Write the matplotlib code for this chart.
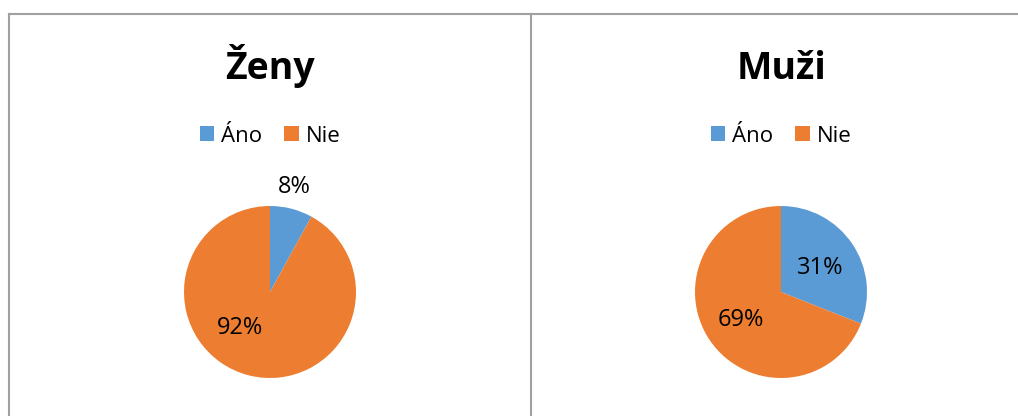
import matplotlib
matplotlib.use('Agg')
import matplotlib.pyplot as plt
from matplotlib.lines import Line2D

plt.rcParams['font.family'] = ['Open Sans', 'DejaVu Sans']

# data
categories = ["Áno", "Nie"]
titles = ["Ženy", "Muži"]
zeny = [8, 92]
muzi = [31, 69]
colors = ["#5B9BD5", "#ED7D31"]

W, H = 1018, 416
fig = plt.figure(figsize=(W / 100, H / 100), dpi=100)


def fx(px):
    return px / W


def fy(py):
    return 1 - py / H


# panel borders (cropped chart frames)
border = "#A0A0A0"
top = 13.5
fig.add_artist(Line2D([fx(9), fx(W)], [fy(top), fy(top)], color=border, lw=1.5, transform=fig.transFigure))
fig.add_artist(Line2D([fx(9), fx(9)], [fy(top), 0], color=border, lw=1.5, transform=fig.transFigure))
fig.add_artist(Line2D([fx(531), fx(531)], [fy(top), 0], color=border, lw=1.5, transform=fig.transFigure))


def draw_pie(values, title, cx, cy, r, label_pos):
    ax = fig.add_axes([fx(cx - r), fy(cy + r), r * 2 / W, r * 2 / H])
    wedges, texts, autotexts = ax.pie(
        values, colors=colors, startangle=90, counterclock=False,
        autopct="%1.0f%%", pctdistance=0.57, radius=1,
        wedgeprops=dict(linewidth=0),
        textprops=dict(fontsize=17, color="black"))
    for t, pos in zip(autotexts, label_pos):
        if pos is not None:
            t.set_position(pos)
    ax.set_xlim(-1, 1)
    ax.set_ylim(-1, 1)
    ax.set_aspect("equal")
    ax.axis("off")

    fig.text(fx(cx), fy(79), title, ha="center", va="baseline",
             fontsize=27, fontweight="bold")
    fig.legend(wedges, categories, loc="center", ncol=2,
               bbox_to_anchor=(fx(cx), fy(136)), frameon=False,
               fontsize=16, handlelength=0.65, handleheight=0.65,
               handletextpad=0.3, columnspacing=1.0)


draw_pie(zeny, titles[0], 270, 292, 86, [(0.28, 1.22), (-0.35, -0.42)])
draw_pie(muzi, titles[1], 781, 292, 86, [(0.46, 0.28), None])

plt.savefig("out.png", dpi=100)
